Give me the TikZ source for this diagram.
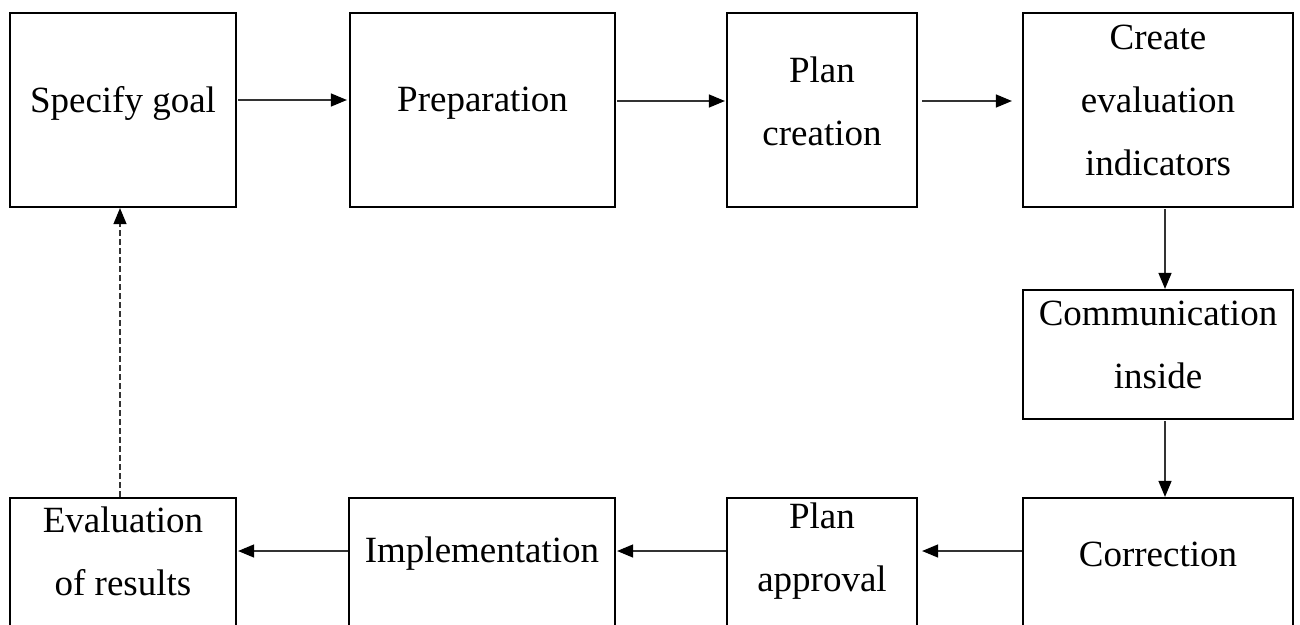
\documentclass[tikz,border=0pt]{standalone}
\usepackage{fontspec}
\setmainfont{Liberation Serif}
\usetikzlibrary{arrows.meta}

\tikzset{
    stage/.style={draw=black, line width=2.2pt, inner sep=0pt},
    stagetext/.style={align=center, inner sep=0pt, font=\fontsize{37}{63}\selectfont},
    flow/.style={draw=black!80, line width=1.3pt, -{Triangle[length=16pt,width=13pt,color=black]}},
}

\begin{document}
\begin{tikzpicture}[x=1pt, y=-1pt]
            \useasboundingbox (0,0) rectangle (1300,624);
            \clip (0,0) rectangle (1300,624);

            % Top row
            \node[stage, minimum width=226pt, minimum height=194pt] (goal) at (123,110) {};
            \node[stage, minimum width=265pt, minimum height=194pt] (prep) at (482.5,110) {};
            \node[stage, minimum width=190pt, minimum height=194pt] (plan) at (822,110) {};
            \node[stage, minimum width=270pt, minimum height=194pt] (indic) at (1158,110) {};

            % Right column
            \node[stage, minimum width=270pt, minimum height=129pt] (comm) at (1158,354.5) {};

            % Bottom row (cut off at the lower edge)
            \node[stage, minimum width=270pt, minimum height=132pt] (corr) at (1158,564) {};
            \node[stage, minimum width=190pt, minimum height=132pt] (approv) at (822,564) {};
            \node[stage, minimum width=266pt, minimum height=132pt] (impl) at (482,564) {};
            \node[stage, minimum width=226pt, minimum height=132pt] (evalres) at (123,564) {};

            % Labels
            \node[stagetext] (goal-t) at (123,103) {Specify goal};
            \node[stagetext] (prep-t) at (482.5,103) {Preparation};
            \node[stagetext] (plan-t) at (822,101) {Plan\\creation};
            \node[stagetext] (indic-t) at (1158,100) {Create\\evaluation\\indicators};
            \node[stagetext] (comm-t) at (1158,345) {Communication\\inside};
            \node[stagetext] (corr-t) at (1158,554) {Correction};
            \node[stagetext] (approv-t) at (822,551) {Plan\\approval};
            \node[stagetext] (impl-t) at (482,554) {Implementation};
            \node[stagetext] (evalres-t) at (123,551) {Evaluation\\of results};

            % Arrows along the top
            \draw[flow, shorten <=1pt, shorten >=2pt] (goal.east |- 0,100) -- (prep.west |- 0,100);
            \draw[flow, shorten <=1pt, shorten >=1pt] (prep.east |- 0,101) -- (plan.west |- 0,101);
            \draw[flow, shorten <=4pt, shorten >=10pt] (plan.east |- 0,101) -- (indic.west |- 0,101);

            % Down the right side
            \draw[flow, shorten <=1pt] ([xshift=7pt]indic.south) -- ([xshift=7pt]comm.north);
            \draw[flow, shorten <=1pt] ([xshift=7pt]comm.south) -- ([xshift=7pt]corr.north);

            % Back along the bottom
            \draw[flow, shorten >=4pt] (corr.west |- approv-t) -- (approv.east |- approv-t);
            \draw[flow, shorten >=1pt] (approv.west |- approv-t) -- (impl.east |- approv-t);
            \draw[flow, shorten >=1pt] (impl.west |- evalres-t) -- (evalres.east |- evalres-t);

            % Feedback to the goal
            \draw[flow, line width=1.2pt, dash pattern=on 6pt off 3pt] ([xshift=-3pt]evalres.north) -- ([xshift=-3pt]goal.south);

\end{tikzpicture}
\end{document}
